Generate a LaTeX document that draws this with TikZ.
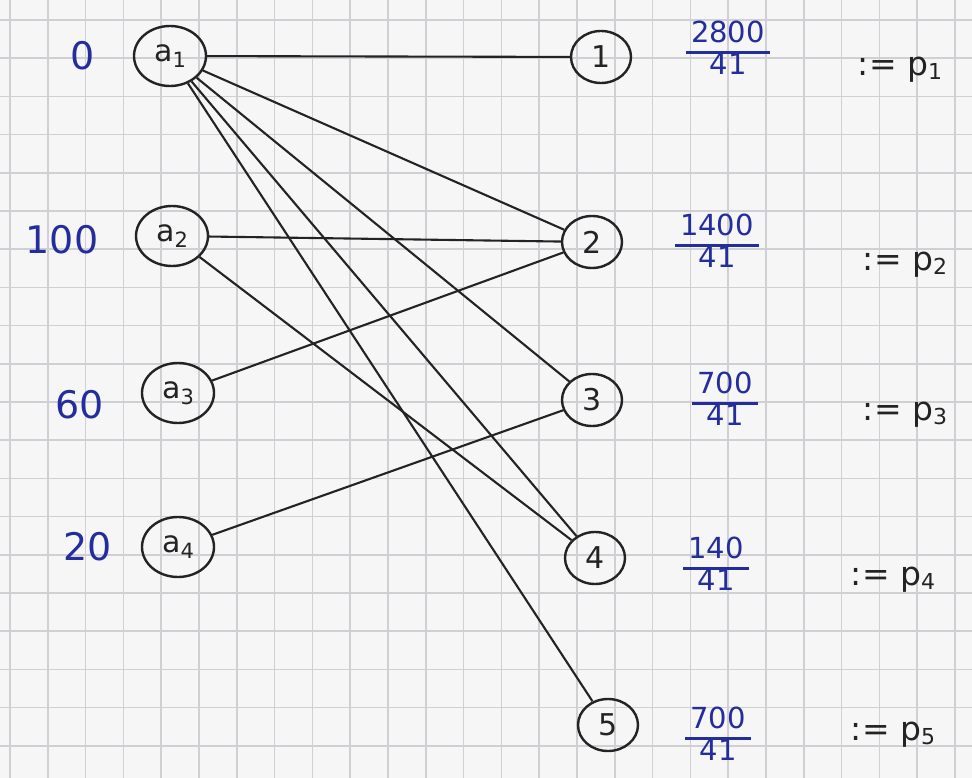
\documentclass[tikz,border=0pt]{standalone}
\usepackage{fontspec}
\setmainfont{DejaVu Sans}
\usetikzlibrary{shapes.geometric}
\definecolor{paper}{RGB}{246,246,246}
\definecolor{gridc}{RGB}{208,208,212}
\definecolor{ink}{RGB}{35,35,35}
\definecolor{blueink}{RGB}{35,45,155}
\tikzset{
  left/.style={ellipse,draw=ink,line width=2.4pt,minimum width=72pt,minimum height=60pt,inner sep=0pt,font=\fontsize{30}{30}\selectfont,text=ink},
  right/.style={ellipse,draw=ink,line width=2.4pt,minimum width=60pt,minimum height=52pt,inner sep=0pt,font=\fontsize{30}{30}\selectfont,text=ink},
  edge/.style={draw=ink,line width=2.1pt},
  supply/.style={text=blueink,font=\fontsize{38}{40}\selectfont,inner sep=0pt},
  frac/.style={text=blueink,font=\fontsize{29}{29}\selectfont,inner sep=0pt},
  pdef/.style={text=ink,font=\fontsize{33}{34}\selectfont,inner sep=0pt}
}
\newcommand{\myfrac}[2]{\setlength{\arrayrulewidth}{3pt}\renewcommand{\arraystretch}{0.95}\begin{tabular}{@{\,}c@{\,}}#1\\\hline #2\end{tabular}}
\begin{document}
\begin{tikzpicture}[x=1pt,y=-1pt]
\useasboundingbox (0,0) rectangle (972,778);
\fill[paper] (0,0) rectangle (972,778);
\foreach \i in {0,...,25} {\draw[gridc,line width=1.6pt] ({10+37.8*\i},0) -- ({10+37.8*\i},778);}
\foreach \j in {0,...,20} {\draw[gridc,line width=1.6pt] (0,{20+38.2*\j}) -- (972,{20+38.2*\j});}
% left nodes
\node[left] (a1) at (170,56) {a\raisebox{-0.35ex}{\fontsize{21}{21}\selectfont 1}};
\node[left] (a2) at (172,236) {a\raisebox{-0.35ex}{\fontsize{21}{21}\selectfont 2}};
\node[left] (a3) at (178,393) {a\raisebox{-0.35ex}{\fontsize{21}{21}\selectfont 3}};
\node[left] (a4) at (178,547) {a\raisebox{-0.35ex}{\fontsize{21}{21}\selectfont 4}};
% right nodes
\node[right] (b1) at (601,57) {1};
\node[right] (b2) at (592,242) {2};
\node[right] (b3) at (592,400) {3};
\node[right] (b4) at (595,558) {4};
\node[right] (b5) at (608,725) {5};
% edges
\draw[edge] (a1) -- (b1);
\draw[edge] (a1) -- (b2);
\draw[edge] (a1) -- (b3);
\draw[edge] (a1) -- (b4);
\draw[edge] (a1) -- (b5);
\draw[edge] (a2) -- (b2);
\draw[edge] (a2) -- (b4);
\draw[edge] (a3) -- (b2);
\draw[edge] (a4) -- (b3);
% supplies
\node[supply] (s1) at (83,56) {0};
\node[supply] (s2) at (62,240) {100};
\node[supply] (s3) at (80,405) {60};
\node[supply] (s4) at (88,547) {20};
% fractions
\node[frac] (f1) at (728,52) {\myfrac{2800}{41}};
\node[frac] (f2) at (717,245) {\myfrac{1400}{41}};
\node[frac] (f3) at (725,403) {\myfrac{700}{41}};
\node[frac] (f4) at (716,568) {\myfrac{140}{41}};
\node[frac] (f5) at (718,738) {\myfrac{700}{41}};
% definitions
\node[pdef] (p1) at (900,70) {:= p\raisebox{-0.2ex}{\fontsize{22}{22}\selectfont 1}};
\node[pdef] (p2) at (905,265) {:= p\raisebox{-0.2ex}{\fontsize{22}{22}\selectfont 2}};
\node[pdef] (p3) at (905,415) {:= p\raisebox{-0.2ex}{\fontsize{22}{22}\selectfont 3}};
\node[pdef] (p4) at (893,580) {:= p\raisebox{-0.2ex}{\fontsize{22}{22}\selectfont 4}};
\node[pdef] (p5) at (893,735) {:= p\raisebox{-0.2ex}{\fontsize{22}{22}\selectfont 5}};
\end{tikzpicture}
\end{document}
